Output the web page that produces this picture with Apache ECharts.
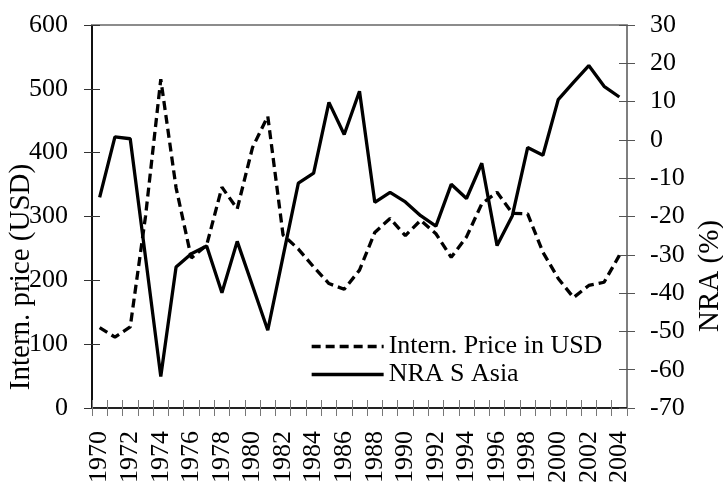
<!DOCTYPE html>
<html>
<head>
<meta charset="utf-8">
<script src="https://cdn.jsdelivr.net/npm/echarts@6/dist/echarts.min.js"></script>
<style>
html,body{margin:0;padding:0;background:#fff;}
#chart{width:723px;height:486px;}
</style>
</head>
<body>
<div id="chart"></div>
<script>
const years = ['1970','1971','1972','1973','1974','1975','1976','1977','1978','1979',
  '1980','1981','1982','1983','1984','1985','1986','1987','1988','1989',
  '1990','1991','1992','1993','1994','1995','1996','1997','1998','1999',
  '2000','2001','2002','2003','2004'];
const priceUSD = [126,111,127,300,515,345,235,255,346,312,
  408,457,271,249,221,195,186,216,275,297,
  270,294,273,236,268,320,338,305,304,244,
  203,173,192,197,239];
const nraSAsia = [-15.0,0.8,0.3,-30.6,-61.8,-33.2,-29.7,-27.7,-39.9,-26.5,
  -38.1,-49.7,-30.4,-11.3,-8.7,9.8,1.4,12.7,-16.3,-13.7,
  -16.2,-19.8,-22.5,-11.6,-15.3,-6.1,-27.6,-19.8,-2.0,-4.0,
  10.5,15.0,19.4,14.0,11.2];
const seriesNames = ['Intern. Price in USD','NRA S Asia'];
const leftAxisName = 'Intern. price (USD)';
const rightAxisName = 'NRA (%)';
const leftRange = {min:0,max:600,interval:100};
const rightRange = {min:-70,max:30,interval:10};

const FONT = 'Liberation Serif, Times New Roman, serif';
const chart = echarts.init(document.getElementById('chart'), null, {renderer:'canvas'});
const lbl = {fontFamily:FONT,fontSize:26,color:'#000'};

chart.setOption({
  animation:false,
  backgroundColor:'#fff',
  grid:{left:92,right:96,top:25,bottom:76,containLabel:false},
  legend:{
    orient:'vertical',left:305,top:328,itemGap:1,itemWidth:72,itemHeight:14,
    data:seriesNames,
    itemStyle:{opacity:0},
    lineStyle:{width:3.3},
    textStyle:{fontFamily:FONT,fontSize:26,color:'#000',lineHeight:27}
  },
  xAxis:[
    {type:'category',data:years,boundaryGap:true,position:'bottom',
     axisLine:{onZero:false,lineStyle:{color:'#222',width:2}},
     axisTick:{show:true,inside:false,length:8,interval:0,lineStyle:{color:'#777',width:1}},
     axisLabel:{...lbl,rotate:90,interval:1,margin:23}},
    {type:'category',data:years,boundaryGap:true,position:'bottom',
     axisLine:{show:false,onZero:false},
     axisTick:{show:true,inside:true,length:8,interval:0,lineStyle:{color:'#777',width:1}},
     axisLabel:{show:false},splitLine:{show:false}},
    {type:'category',data:years,boundaryGap:true,position:'top',
     axisLine:{onZero:false,lineStyle:{color:'#8c8c8c',width:2}},
     axisTick:{show:false},axisLabel:{show:false},splitLine:{show:false}}
  ],
  yAxis:[
    {type:'value',position:'left',...leftRange,
     axisLine:{show:true,onZero:false,lineStyle:{color:'#111',width:2}},
     axisTick:{show:true,length:8,lineStyle:{color:'#333',width:1}},
     axisLabel:{...lbl,margin:24},splitLine:{show:false}},
    {type:'value',position:'right',...rightRange,
     axisLine:{show:true,onZero:false,lineStyle:{color:'#555',width:1.5}},
     axisTick:{show:true,length:8,lineStyle:{color:'#555',width:1}},
     axisLabel:{...lbl,margin:23},splitLine:{show:false}},
    {type:'value',position:'left',...leftRange,
     axisLine:{show:false,onZero:false},axisTick:{show:true,inside:true,length:8,lineStyle:{color:'#333',width:1}},
     axisLabel:{show:false},splitLine:{show:false}},
    {type:'value',position:'right',...rightRange,
     axisLine:{show:false,onZero:false},axisTick:{show:true,inside:true,length:8,lineStyle:{color:'#555',width:1}},
     axisLabel:{show:false},splitLine:{show:false}}
  ],
  graphic:[
    {type:'text',x:21,y:277,rotation:Math.PI/2,
     style:{text:leftAxisName,fontFamily:FONT,fontSize:29,fill:'#000',textAlign:'center',textVerticalAlign:'middle'}},
    {type:'text',x:710,y:276,rotation:Math.PI/2,
     style:{text:rightAxisName,fontFamily:FONT,fontSize:29,fill:'#000',textAlign:'center',textVerticalAlign:'middle'}}
  ],
  series:[
    {name:seriesNames[0],type:'line',data:priceUSD,xAxisIndex:0,yAxisIndex:0,
     symbol:'none',lineStyle:{color:'#000',width:3.3,type:[9,5]},itemStyle:{color:'#000'}},
    {name:seriesNames[1],type:'line',data:nraSAsia,xAxisIndex:0,yAxisIndex:1,
     symbol:'none',lineStyle:{color:'#000',width:3.3,type:'solid'},itemStyle:{color:'#000'}}
  ]
});
</script>
</body>
</html>
